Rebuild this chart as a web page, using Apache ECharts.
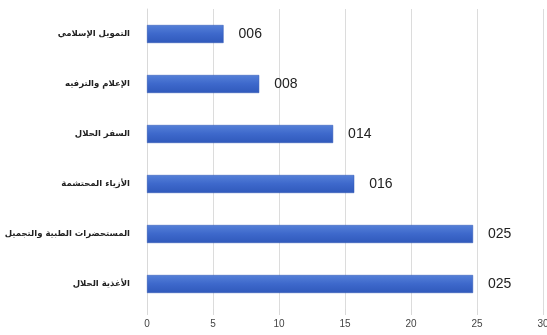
<!DOCTYPE html>
<html><head><meta charset="utf-8">
<script src="https://cdn.jsdelivr.net/npm/echarts@6/dist/echarts.min.js"></script>
<style>html,body{margin:0;padding:0;background:#fff}#c{width:547px;height:335px}</style>
</head><body><div id="c"></div>
<script>
const categories = ["التمويل الإسلامي", "الإعلام والترفيه", "السفر الحلال", "الأزياء المحتشمة", "المستحضرات الطبية والتجميل", "الأغذية الحلال"];
const values = [5.8, 8.5, 14.1, 15.7, 24.7, 24.7];
const valueLabels = ["006", "008", "014", "016", "025", "025"];
const xTicks = [0, 5, 10, 15, 20, 25, 30];

const chart = echarts.init(document.getElementById('c'));
chart.setOption({
  animation: false,
  grid: {left: 147, right: 4, top: 9, bottom: 26, containLabel: false, outerBoundsMode: 'none'},
  xAxis: {
    type: 'value', min: xTicks[0], max: xTicks[xTicks.length-1], interval: 5,
    axisLine: {show: false},
    axisTick: {show: true, length: 6, lineStyle: {color: '#d9d9d9'}},
    splitLine: {show: true, lineStyle: {color: '#dcdcdc', width: 1}},
    axisLabel: {color: '#444', fontSize: 10, fontFamily: 'Arial, Liberation Sans', margin: 10}
  },
  yAxis: {
    type: 'category', data: categories, inverse: true,
    axisLine: {show: true, lineStyle: {color: '#d9d9d9'}},
    axisTick: {show: false},
    axisLabel: {color: '#222', fontSize: 8.5, fontWeight: 'bold', fontFamily: 'DejaVu Sans, Noto Sans', margin: 17}
  },
  series: [{
    type: 'bar', data: values, barWidth: 18,
    itemStyle: {
      color: new echarts.graphic.LinearGradient(0, 0, 0, 1, [
        {offset: 0, color: '#5580d8'}, {offset: 0.5, color: '#3d68cb'}, {offset: 1, color: '#3059bb'}
      ]),
      borderColor: '#2d55b5', borderWidth: 0.5
    },
    label: {
      show: true, position: 'right', distance: 15,
      formatter: p => valueLabels[p.dataIndex],
      color: '#222', fontSize: 14, fontFamily: 'Arial, Liberation Sans'
    }
  }]
});
</script></body></html>
